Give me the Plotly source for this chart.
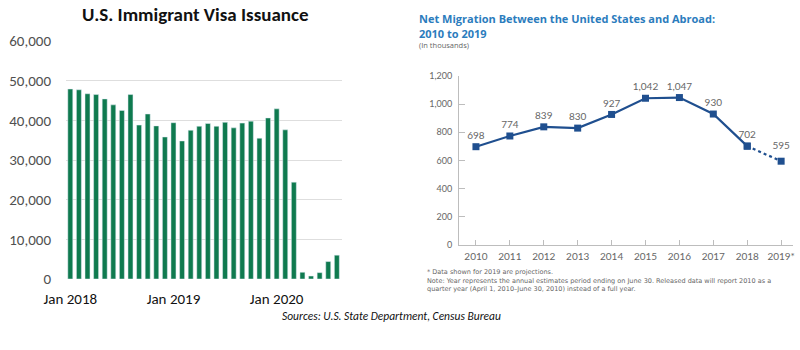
import plotly.graph_objects as go

# ---- Left panel data: U.S. Immigrant Visa Issuance (monthly, Jan 2018 - Aug 2020)
visa_months = list(range(32))
visa_values = [47900, 47700, 46700, 46500, 45400, 43900, 42500, 46500,
               38800, 41600, 38600, 35800, 39400, 34800, 37500, 38500,
               39200, 38500, 39500, 38100, 39300, 39800, 35500, 40600,
               42900, 37600, 24400, 1700, 750, 1600, 4400, 6000]
visa_tickvals = [0, 12, 24]
visa_ticktext = ["Jan 2018", "Jan 2019", "Jan 2020"]
visa_yticks = [0, 10000, 20000, 30000, 40000, 50000, 60000]

# ---- Right panel data: Net migration (thousands)
mig_years = [2010, 2011, 2012, 2013, 2014, 2015, 2016, 2017, 2018, 2019]
mig_values = [698, 774, 839, 830, 927, 1042, 1047, 930, 702, 595]
mig_labels = ["698", "774", "839", "830", "927", "1,042", "1,047", "930", "702", "595"]
mig_ticktext = ["2010", "2011", "2012", "2013", "2014", "2015", "2016", "2017", "2018", "2019*"]
mig_yticks = [0, 200, 400, 600, 800, 1000, 1200]

GREEN = "#0f7a4f"
BLUE = "#1f4f8f"
TITLE_BLUE = "#2b7cbd"
GREY = "#666666"
RFONT = "Lato, sans-serif"
WFONT = "Open Sans, sans-serif"
NFONT = "DejaVu Sans, sans-serif"
LFONT = "Carlito, Open Sans, sans-serif"

fig = go.Figure()

fig.add_trace(go.Bar(
    x=visa_months, y=visa_values, marker_color=GREEN, width=0.58,
    xaxis="x", yaxis="y", showlegend=False, hoverinfo="x+y"))

# solid part 2010-2018
fig.add_trace(go.Scatter(
    x=mig_years[:-1], y=mig_values[:-1], mode="lines+markers+text",
    line=dict(color=BLUE, width=2.2),
    marker=dict(symbol="square", size=7, color=BLUE),
    text=mig_labels[:-1], textposition="top center",
    textfont=dict(family=RFONT, size=10, color=GREY),
    xaxis="x2", yaxis="y2", showlegend=False, cliponaxis=False))
# projected 2018-2019 dotted
fig.add_trace(go.Scatter(
    x=mig_years[-2:], y=mig_values[-2:], mode="lines+markers",
    line=dict(color=BLUE, width=2.2, dash="dot"),
    marker=dict(symbol="square", size=7, color=BLUE),
    xaxis="x2", yaxis="y2", showlegend=False, cliponaxis=False))
fig.add_trace(go.Scatter(
    x=mig_years[-1:], y=mig_values[-1:], mode="markers+text",
    marker=dict(symbol="square", size=14, color=BLUE, opacity=0),
    text=mig_labels[-1:], textposition="top center",
    textfont=dict(family=RFONT, size=10, color=GREY),
    xaxis="x2", yaxis="y2", showlegend=False, cliponaxis=False))

W, H = 800, 350


def ann(text, x, y, size, color, family, xanchor="left", yanchor="middle", align="left"):
    return dict(text=text, x=x / W, y=1 - y / H, xref="paper", yref="paper",
                showarrow=False, xanchor=xanchor, yanchor=yanchor, align=align,
                font=dict(family=family, size=size, color=color), borderpad=0)


fig.update_layout(
    width=W, height=H, margin=dict(l=0, r=0, t=0, b=0, autoexpand=False),
    paper_bgcolor="white", plot_bgcolor="white",
    font=dict(family="Open Sans, sans-serif"),
    xaxis=dict(domain=[66 / W, 342 / W], range=[-0.5, 31.6], automargin=False,
               tickvals=visa_tickvals, ticktext=visa_ticktext,
               tickfont=dict(family=LFONT, size=15, color="#111111"),
               showgrid=False, zeroline=False, showline=False, ticks="",
               ticklabelstandoff=9),
    yaxis=dict(domain=[1 - 279 / H, 1 - 41 / H], range=[0, 60000], automargin=False,
               tickvals=visa_yticks, tickformat=",d",
               tickfont=dict(family=LFONT, size=15, color="#505050"),
               showgrid=True, gridcolor="#dedede", gridwidth=1, zeroline=False,
               ticks="", ticklabelstandoff=14),
    xaxis2=dict(domain=[459 / W, 793 / W], range=[2009.5, 2019.35], anchor="y2",
                automargin=False,
                tickvals=mig_years, ticktext=mig_ticktext,
                tickfont=dict(family=RFONT, size=10, color=GREY),
                showgrid=False, zeroline=False, showline=True, linecolor="#bdbdbd", linewidth=1,
                ticks="inside", ticklen=5, tickcolor="#bdbdbd", ticklabelstandoff=2),
    yaxis2=dict(domain=[1 - 245 / H, 1 - 76 / H], range=[0, 1200], anchor="x2",
                automargin=False,
                tickvals=mig_yticks, tickformat=",d",
                tickfont=dict(family=RFONT, size=9, color=GREY),
                showgrid=False, zeroline=False, showline=True, linecolor="#bdbdbd", linewidth=1,
                ticks="inside", ticklen=6, tickcolor="#bdbdbd", ticklabelstandoff=4),
    annotations=[
        ann("<b>U.S. Immigrant Visa Issuance</b>", 195, 14, 19, "#111111", LFONT,
            xanchor="center"),
        ann("<b>Net Migration Between the United States and Abroad:</b>", 418, 19, 11,
            TITLE_BLUE, WFONT),
        ann("<b>2010 to 2019</b>", 418, 33, 11, TITLE_BLUE, WFONT),
        ann("(In thousands)", 418, 45, 7.5, GREY, WFONT),
        ann("* Data shown for 2019 are projections.", 426, 272, 6.5, GREY, NFONT),
        ann("Note: Year represents the annual estimates period ending on June 30. "
            "Released data will report 2010 as a", 426, 280.5, 6.5, GREY, NFONT),
        ann("quarter year (April 1, 2010–June 30, 2010) instead of a full year.", 426, 289,
            6.5, GREY, NFONT),
        ann("<i>Sources: U.S. State Department, Census Bureau</i>", 391, 316, 11.5,
            "#111111", LFONT, xanchor="center"),
    ],
)

fig.write_html("out.html")
